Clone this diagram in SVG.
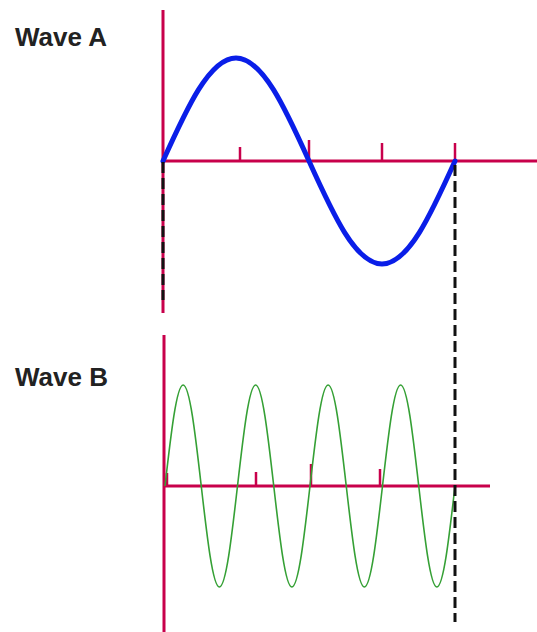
<svg xmlns="http://www.w3.org/2000/svg" width="537" height="632" viewBox="0 0 537 632">
<style>
.axis{stroke:#c8004b;stroke-width:3;fill:none}
.tick{stroke:#c8004b;stroke-width:2.5;fill:none}
.dash{stroke:#111;stroke-width:3;stroke-dasharray:11,5;fill:none}
.label{font-family:"Liberation Sans",Arial,sans-serif;font-weight:bold;font-size:26px;fill:#222}
</style>
<rect width="537" height="632" fill="#fff"/>
<g id="waveA">
<text class="label" x="15" y="46">Wave A</text>
<line class="axis" x1="163" y1="10" x2="163" y2="313"/>
<line class="axis" x1="163" y1="161" x2="537" y2="161"/>
<line class="tick" x1="240" y1="147" x2="240" y2="161"/>
<line class="tick" x1="309" y1="140" x2="309" y2="161"/>
<line class="tick" x1="382" y1="143" x2="382" y2="161"/>
<line class="tick" x1="455" y1="143" x2="455" y2="161"/>
<path d="M163,161 C186.8,108.2 209.6,58 236,58 C262.4,58 285.2,108.2 309,161 C332.8,213.8 355.6,264 382,264 C408.4,264 431.2,213.8 455,161" fill="none" stroke="#0a1ee8" stroke-width="5" stroke-linecap="round"/>
</g>
<g id="waveB">
<text class="label" x="15" y="386">Wave B</text>
<line class="axis" x1="164" y1="335" x2="164" y2="632"/>
<line class="axis" x1="164" y1="486" x2="490" y2="486"/>
<line class="tick" x1="167" y1="473" x2="167" y2="486"/>
<line class="tick" x1="256" y1="472" x2="256" y2="486"/>
<line class="tick" x1="311" y1="464" x2="311" y2="486"/>
<line class="tick" x1="380" y1="469" x2="380" y2="486"/>
<path d="M165,486 c5.91,-51.7 11.57,-101 18.125,-101 c6.555,0 12.215,49.3 18.125,101 c5.91,51.7 11.57,101 18.125,101 c6.555,0 12.215,-49.3 18.125,-101
c5.91,-51.7 11.57,-101 18.125,-101 c6.555,0 12.215,49.3 18.125,101 c5.91,51.7 11.57,101 18.125,101 c6.555,0 12.215,-49.3 18.125,-101
c5.91,-51.7 11.57,-101 18.125,-101 c6.555,0 12.215,49.3 18.125,101 c5.91,51.7 11.57,101 18.125,101 c6.555,0 12.215,-49.3 18.125,-101
c5.91,-51.7 11.57,-101 18.125,-101 c6.555,0 12.215,49.3 18.125,101 c5.91,51.7 11.57,101 18.125,101 c6.555,0 12.215,-49.3 18.125,-101" fill="none" stroke="#35a035" stroke-width="1.6"/>
</g>
<g id="connectors">
<line class="dash" x1="163" y1="162" x2="163" y2="300"/>
<line class="dash" x1="455" y1="165" x2="455" y2="622"/>
</g>
</svg>
